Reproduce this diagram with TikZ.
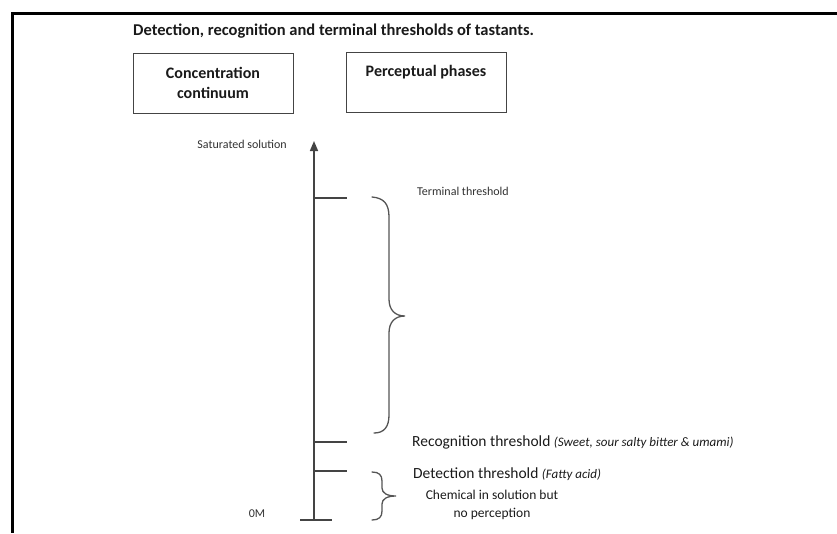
\documentclass[tikz,border=0pt]{standalone}
\usepackage{fontspec}
\setmainfont{Carlito}
\usetikzlibrary{arrows.meta}
\definecolor{linegray}{HTML}{444444}
\definecolor{bracegray}{HTML}{555555}
\definecolor{txt}{HTML}{1A1A1A}
\tikzset{
  frame/.style={line width=3pt, black},
  axisline/.style={line width=1.6pt, linegray},
  tick/.style={line width=1.6pt, linegray},
  bracel/.style={line width=1.3pt, bracegray, line cap=round},
  headbox/.style={draw=linegray, line width=1pt, minimum width=160pt, minimum height=60pt, inner sep=0pt, align=center, text=txt, font=\bfseries\fontsize{16}{20}\selectfont},
  small/.style={inner sep=0pt, text=txt!90, font=\fontsize{12}{14}\selectfont},
  mid/.style={inner sep=0pt, text=txt, font=\fontsize{15.5}{18}\selectfont},
}
\begin{document}
\begin{tikzpicture}[x=1pt, y=-1pt]
\useasboundingbox (0,0) rectangle (837,533);
% frame
\coordinate (fr) at (837,13);
\coordinate (fc) at (12,13);
\coordinate (fb) at (12,533);
\draw[frame] (fr) -- (fc) -- (fb);
% title
\node[anchor=base west, inner sep=0pt, text=txt, font=\bfseries\fontsize{16.5}{20}\selectfont] (title) at (133,35) {Detection, recognition and terminal thresholds of tastants.};
% boxes
\node[headbox] (box1) at (213,83) {Concentration\\continuum};
\node[headbox] (box2) at (426,82.5) {Perceptual phases\\\phantom{Xy}};
% axis
\coordinate (a0) at (314,520);
\coordinate (a1) at (314,141);
\draw[axisline, -{Triangle[width=8pt,length=10pt]}] (a0) -- (a1);
\coordinate (b0) at (300,520);
\coordinate (b1) at (332,520);
\draw[tick] (b0) -- (b1);
\coordinate (t1) at (314,198); \coordinate (t1e) at (347,198);
\coordinate (t2) at (314,442); \coordinate (t2e) at (347,442);
\coordinate (t3) at (314,471); \coordinate (t3e) at (347,471);
\draw[tick] (t1) -- (t1e);
\draw[tick] (t2) -- (t2e);
\draw[tick] (t3) -- (t3e);
% big brace
\draw[bracel] (372,197) .. controls (384,198) and (389,204) .. (389,217) -- (389,299)
  .. controls (389,310) and (395,316) .. (405,316)
  .. controls (395,316) and (389,322) .. (389,333) -- (389,415)
  .. controls (389,427) and (384,433) .. (374,433);
% small brace
\draw[bracel] (372,472) .. controls (379,472) and (382,475) .. (382,481) -- (382,488)
  .. controls (382,493) and (387,496) .. (396,496)
  .. controls (387,496) and (382,499) .. (382,504) -- (382,511)
  .. controls (382,517) and (379,520) .. (372,520);
% labels
\node[small, anchor=east] (sat) at (287,144) {Saturated solution};
\node[small, anchor=west] (term) at (417,191) {Terminal threshold};
\node[small, anchor=center] (zero) at (257,514) {0M};
\node[mid, anchor=base west] (recog) at (412,446) {Recognition threshold {\itshape\fontsize{13}{15}\selectfont(Sweet, sour salty bitter \& umami)}};
\node[mid, anchor=base west] (detect) at (413,478) {Detection threshold {\itshape\fontsize{13}{15}\selectfont(Fatty acid)}};
\node[inner sep=0pt, text=txt, align=center, font=\fontsize{13.5}{18}\selectfont, anchor=center] (chem) at (492,505) {Chemical in solution but\\no perception};
\end{tikzpicture}
\end{document}
